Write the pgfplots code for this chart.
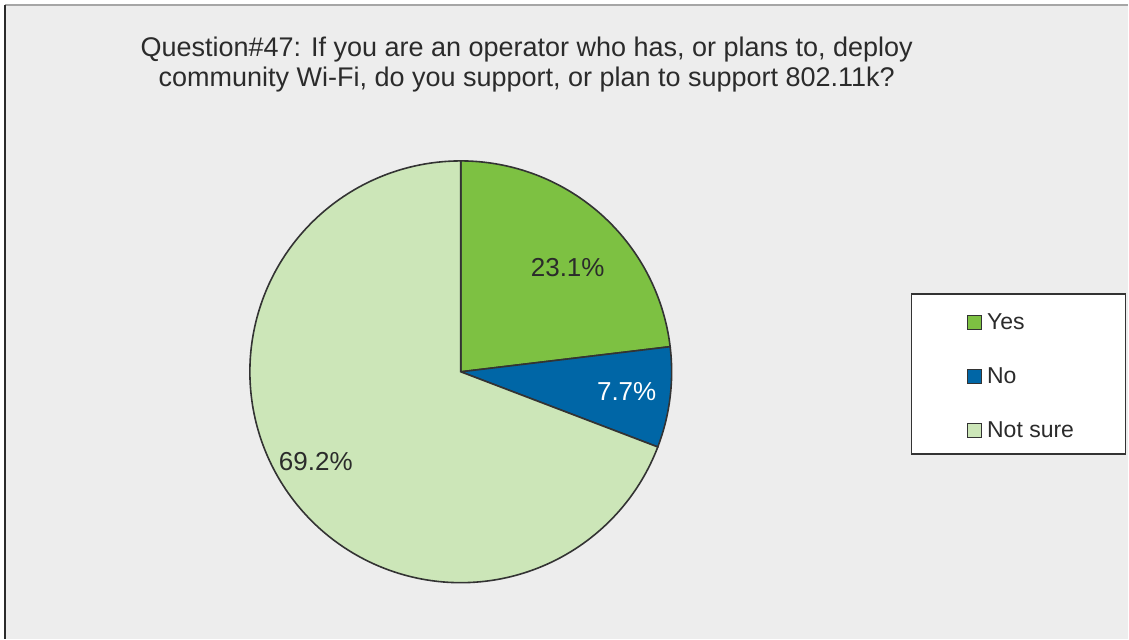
\documentclass[border=0pt]{standalone}
\usepackage{pgfplots}
\pgfplotsset{compat=1.18}
\usepackage{fontspec}
\setmainfont{Liberation Sans}
\definecolor{bg}{HTML}{EDEDED}
\definecolor{txt}{HTML}{2B2B2B}
\definecolor{cyes}{HTML}{7DC142}
\definecolor{cno}{HTML}{0066A6}
\definecolor{cnot}{HTML}{CCE6B8}
\definecolor{edge}{HTML}{333333}
% shares in percent
\def\pYes{23.1}
\def\pNo{7.7}
\def\pNot{69.2}
\begin{document}
\begin{tikzpicture}
\pgfmathsetmacro\aA{90}
\pgfmathsetmacro\aB{90-3.6*\pYes}
\pgfmathsetmacro\aC{\aB-3.6*\pNo}
\pgfmathsetmacro\aD{\aC-3.6*\pNot}
\begin{axis}[
  scale only axis, width=1129pt, height=639pt,
  xmin=0, xmax=1129, ymin=0, ymax=639,
  hide axis, clip=false,
  legend style={at={(axis cs:964,328)}, anchor=north west, draw=none, fill=none,
    font=\fontsize{23}{27}\selectfont, text=txt, row sep=34.5pt,
    nodes={inner sep=1pt}},
  legend cell align=left,
  legend image code/.code={\draw[#1, draw=edge, line width=1.3pt] (0pt,-7pt) rectangle (14pt,7pt); \path (18pt,0pt);},
]
\path[fill=white] (axis cs:0,0) rectangle (axis cs:1129,639);
\fill[bg] (axis cs:5,0) rectangle (axis cs:1129,634);
\draw[gray!70, line width=1.2pt] (axis cs:5,634) -- (axis cs:1129,634);
\draw[txt, line width=2pt] (axis cs:5,0) -- (axis cs:5,634);
\draw[edge, line width=1.8pt, fill=white] (axis cs:912,345) rectangle (axis cs:1126,185);
\addplot[fill=cyes, draw=edge, line width=1.6pt, domain=\aB:\aA, samples=80]
  ({461+211*cos(x)},{267+211*sin(x)}) -- (axis cs:461,267) -- cycle;
\addlegendentry{Yes}
\addplot[fill=cno, draw=edge, line width=1.6pt, domain=\aC:\aB, samples=40]
  ({461+211*cos(x)},{267+211*sin(x)}) -- (axis cs:461,267) -- cycle;
\addlegendentry{No}
\addplot[fill=cnot, draw=edge, line width=1.6pt, domain=\aD:\aC, samples=200]
  ({461+211*cos(x)},{267+211*sin(x)}) -- (axis cs:461,267) -- cycle;
\addlegendentry{Not sure}
\node[text=txt, font=\fontsize{26}{31}\selectfont] at (axis cs:568,371) {23.1\%};
\node[text=white, font=\fontsize{26}{31}\selectfont] at (axis cs:627,247) {7.7\%};
\node[text=txt, font=\fontsize{26}{31}\selectfont] at (axis cs:316,177) {69.2\%};
\node[text=txt, anchor=base, font=\fontsize{27}{32}\selectfont] at (axis cs:527,582) {Question\#47: If you are an operator who has, or plans to, deploy};
\node[text=txt, anchor=base, font=\fontsize{27}{32}\selectfont] at (axis cs:527,552) {community Wi-Fi, do you support, or plan to support 802.11k?};
\end{axis}
\end{tikzpicture}
\end{document}
